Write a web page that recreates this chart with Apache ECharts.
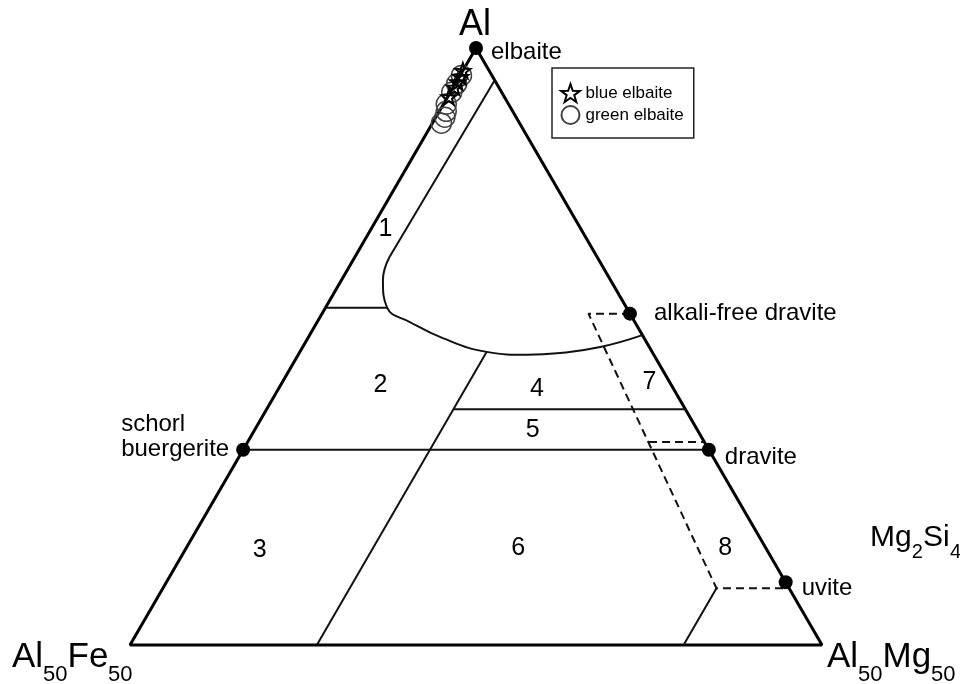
<!DOCTYPE html>
<html>
<head>
<meta charset="utf-8">
<script src="https://cdn.jsdelivr.net/npm/echarts@6/dist/echarts.min.js"></script>
<style>
  html, body { margin: 0; padding: 0; background: #fff; }
  #chart { width: 960px; height: 684px; }
</style>
</head>
<body>
<div id="chart"></div>
<script>
// Compositions are ternary points [Al, Fe, Mg] in percent (Al50Fe50 / Al50Mg50 base).
const triangle = [[100, 0, 0], [0, 100, 0], [0, 0, 100], [100, 0, 0]];

const endMemberNames = ['elbaite', 'alkali-free dravite', 'dravite', 'uvite', 'schorl\nbuergerite'];
const endMemberComps = [[100, 0, 0], [55.5, 0, 44.5], [32.7, 0, 67.3], [10.5, 0, 89.5], [32.7, 67.3, 0]];

// field boundaries (solid)
const field1Edge = [[94.6, 0, 5.4], [65, 30, 5]];
const field1Curve = [
  [65, 30, 5], [61.1, 32.9, 6.0], [56.5, 34.6, 8.9], [54.1, 32.5, 13.4],
  [51.4, 29.1, 19.5], [49.1, 23.9, 27], [48.6, 18.3, 33.1],
  [48.9, 13.4, 37.7], [49.9, 7.1, 43], [51.9, 0, 48.1]
];
const line12 = [[56.5, 43.5, 0], [56.5, 34.6, 8.9]];
const line23 = [[32.7, 67.3, 0], [32.7, 0, 67.3]];
const line26 = [[0, 73, 27], [49.1, 23.9, 27]];
const line45 = [[39.5, 33.5, 27], [39.5, 0, 60.5]];
const line68 = [[0, 20, 80], [9.5, 10.5, 80]];

// dashed boundaries
const dashedOuter = [[55.5, 0, 44.5], [55.5, 6, 38.5], [9.5, 10.5, 80], [9.5, 0, 90.5]];
const dashedInner = [[34, 8, 58], [34, 0, 66]];

// analyses
const blueElbaite = [[96.2, 3.8, 0], [95.2, 4.6, 0.2], [94.3, 5.5, 0.2], [93.4, 6.4, 0.2], [91.8, 8.0, 0.2]];
const greenElbaite = [[95.4, 4.4, 0.2], [94.0, 5.8, 0.2], [92.6, 7.2, 0.2], [90.6, 9.0, 0.4],
                      [89.4, 9.6, 1.0], [88.4, 10.3, 1.3], [87.4, 11.3, 1.3]];

const regionNames = ['1', '2', '3', '4', '5', '6', '7', '8'];
const regionComps = [[69.6, 28.3, 2.1], [43.6, 42.0, 14.4], [15.9, 73.3, 10.8], [42.8, 19.8, 37.4],
                     [36.0, 23.8, 40.2], [16.2, 35.8, 48.0], [44.1, 2.9, 53.0], [16.2, 5.9, 77.9]];

// ternary -> cartesian (x along base, y = Al fraction)
function tern(c) {
  const s = c[0] + c[1] + c[2];
  const al = c[0] / s, mg = c[2] / s;
  return [mg + al / 2, al];
}

const FONT = '"Liberation Sans", Arial, Helvetica, sans-serif';
const INK = '#000';
const STAR = 'path://M0,-10L2.35,-3.24L9.51,-3.09L3.8,1.24L5.88,8.09L0,4L-5.88,8.09L-3.8,1.24L-9.51,-3.09L-2.35,-3.24Z';

function lineSeries(pts, opts) {
  return Object.assign({
    type: 'line', data: pts.map(tern), symbol: 'none', clip: false, silent: true,
    lineStyle: { color: '#111', width: 2 }, z: 3, animation: false
  }, opts || {});
}

const labelStyles = {
  'elbaite': { position: 'right', distance: 8, offset: [0, 4] },
  'alkali-free dravite': { position: 'right', distance: 17 },
  'dravite': { position: 'right', distance: 9, offset: [0, 8] },
  'uvite': { position: 'right', distance: 9, offset: [0, 6] },
  'schorl\nbuergerite': { position: [-115, -31], align: 'left', verticalAlign: 'top', lineHeight: 25 }
};
const labelBase = { show: true, formatter: '{b}', fontSize: 24, fontFamily: FONT, color: INK,
                    opacity: 1, textBorderWidth: 0 };

const series = [
  lineSeries(triangle, { lineStyle: { color: '#000', width: 3 } }),
  lineSeries(field1Edge),
  lineSeries(field1Curve, { smooth: 0.45 }),
  lineSeries(line12), lineSeries(line23), lineSeries(line26), lineSeries(line45), lineSeries(line68),
  lineSeries(dashedOuter, { lineStyle: { color: '#111', width: 2, type: [8, 5] } }),
  lineSeries(dashedInner, { lineStyle: { color: '#111', width: 2, type: [8, 5] } }),
  {
    type: 'scatter', clip: false, silent: true, z: 5, animation: false,
    symbolSize: 14, itemStyle: { color: '#000', opacity: 1 },
    data: endMemberNames.map((n, i) => ({
      name: n, value: tern(endMemberComps[i]),
      label: Object.assign({}, labelBase, labelStyles[n])
    }))
  },
  {
    type: 'scatter', clip: false, silent: true, z: 4, animation: false,
    symbolSize: 1, itemStyle: { color: 'transparent' },
    data: regionNames.map((n, i) => ({ name: n, value: tern(regionComps[i]) })),
    label: Object.assign({}, labelBase, { position: 'inside', fontSize: 25 })
  },
  {
    name: 'green elbaite', type: 'scatter', clip: false, z: 6, animation: false,
    symbol: 'circle', symbolSize: 20,
    itemStyle: { color: 'transparent', borderColor: '#444', borderWidth: 1.5, opacity: 1 },
    data: greenElbaite.map(tern)
  },
  {
    name: 'blue elbaite', type: 'scatter', clip: false, z: 7, animation: false,
    symbol: STAR, symbolSize: 15,
    itemStyle: { color: 'transparent', borderColor: '#000', borderWidth: 2, opacity: 1 },
    data: blueElbaite.map(tern)
  }
];

// vertex / side labels with subscripts
function txt(x, y, text, size, align) {
  return { type: 'text', silent: true, z: 10,
    style: { x: x, y: y, text: text, fill: INK, font: size + 'px ' + FONT,
             textAlign: align || 'left', textVerticalAlign: 'middle' } };
}
const graphic = [
  txt(475, 25, 'Al', 36, 'center'),
  txt(12, 657, 'Al', 35), txt(43, 675, '50', 22), txt(67.5, 657, 'Fe', 35), txt(108, 675, '50', 22),
  txt(827, 657, 'Al', 35), txt(858, 675, '50', 22), txt(882.5, 657, 'Mg', 35), txt(931, 675, '50', 22),
  txt(870, 538, 'Mg', 30), txt(911.7, 552, '2', 20), txt(923, 538, 'Si', 30), txt(950, 552, '4', 20)
];

const chart = echarts.init(document.getElementById('chart'), null, { renderer: 'canvas' });
chart.setOption({
  animation: false,
  backgroundColor: '#fff',
  grid: { left: 130, top: 48, width: 692, height: 597 },
  xAxis: { type: 'value', min: 0, max: 1, show: false },
  yAxis: { type: 'value', min: 0, max: 1, show: false },
  legend: {
    orient: 'vertical', left: 552, top: 68,
    padding: [15, 10, 13, 8], itemGap: 2, itemWidth: 20, itemHeight: 18,
    borderColor: '#222', borderWidth: 1.5,
    data: ['blue elbaite', 'green elbaite'],
    textStyle: { fontSize: 17, fontFamily: FONT, color: INK }
  },
  series: series,
  graphic: graphic
});
</script>
</body>
</html>
